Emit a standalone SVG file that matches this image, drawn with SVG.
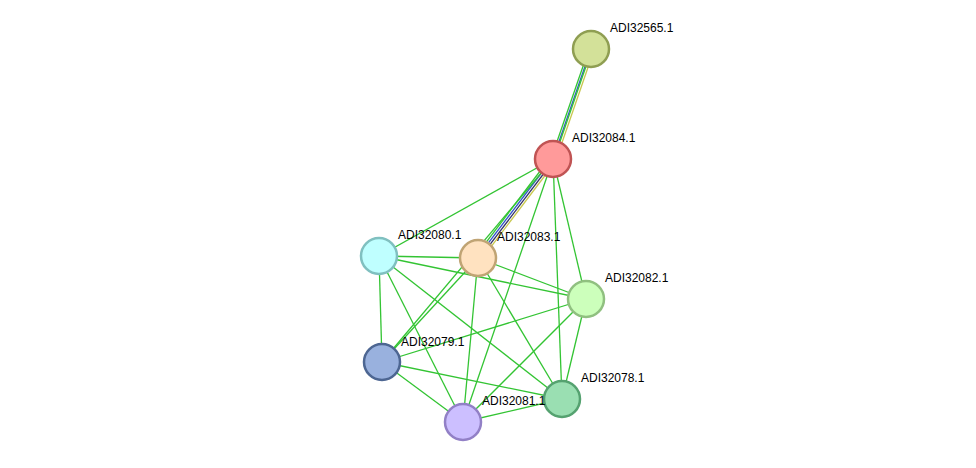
<svg xmlns="http://www.w3.org/2000/svg" width="976" height="468" viewBox="0 0 976 468">
<style>
.e{stroke:#33c433;stroke-width:1.3;fill:none}
.n{stroke-width:2.5}
text{font-family:"Liberation Sans",Arial,sans-serif;font-size:12px;fill:#000}
</style>
<rect width="976" height="468" fill="#fff"/>
<g id="edges">
<line class="e" x1="591" y1="49" x2="553" y2="159" transform="translate(-2,0)"/>
<line x1="591" y1="49" x2="553" y2="159" stroke="#3355cc" stroke-width="1.3"/>
<line class="e" x1="591" y1="49" x2="553" y2="159" transform="translate(1,0)"/>
<line x1="591" y1="49" x2="553" y2="159" stroke="#c8c850" stroke-width="1.3" transform="translate(3,1)"/>
<line class="e" x1="553" y1="159" x2="478" y2="258" transform="translate(-3,-1)"/>
<line x1="553" y1="159" x2="478" y2="258" stroke="#3355cc" stroke-width="1.3" transform="translate(-1,0)"/>
<line x1="553" y1="159" x2="478" y2="258" stroke="#333366" stroke-width="1.3" transform="translate(1,1)"/>
<line x1="553" y1="159" x2="478" y2="258" stroke="#c8c850" stroke-width="1.3" transform="translate(3,2)"/>
<line class="e" x1="553" y1="159" x2="379" y2="256"/>
<line class="e" x1="553" y1="159" x2="586" y2="299"/>
<line class="e" x1="553" y1="159" x2="562" y2="399"/>
<line class="e" x1="553" y1="159" x2="463" y2="422"/>
<line class="e" x1="553" y1="159" x2="382" y2="362"/>
<line class="e" x1="379" y1="256" x2="478" y2="258"/>
<line class="e" x1="379" y1="256" x2="586" y2="299"/>
<line class="e" x1="379" y1="256" x2="382" y2="362"/>
<line class="e" x1="379" y1="256" x2="463" y2="422"/>
<line class="e" x1="379" y1="256" x2="562" y2="399"/>
<line class="e" x1="478" y1="258" x2="586" y2="299"/>
<line class="e" x1="478" y1="258" x2="382" y2="362"/>
<line class="e" x1="478" y1="258" x2="463" y2="422"/>
<line class="e" x1="478" y1="258" x2="562" y2="399"/>
<line class="e" x1="586" y1="299" x2="382" y2="362"/>
<line class="e" x1="586" y1="299" x2="463" y2="422"/>
<line class="e" x1="586" y1="299" x2="562" y2="399"/>
<line class="e" x1="382" y1="362" x2="562" y2="399"/>
<line class="e" x1="382" y1="362" x2="463" y2="422"/>
<line class="e" x1="463" y1="422" x2="562" y2="399"/>
</g>
<g id="ADI32565.1"><circle class="n" cx="591" cy="49" r="18" fill="#d3e199" stroke="#8f9e52"/><text x="610" y="32">ADI32565.1</text></g>
<g id="ADI32084.1"><circle class="n" cx="553" cy="159" r="18" fill="#ff9a9a" stroke="#c05454"/><text x="572" y="142">ADI32084.1</text></g>
<g id="ADI32080.1"><circle class="n" cx="379" cy="256" r="18" fill="#bfffff" stroke="#80c0c0"/><text x="398" y="239">ADI32080.1</text></g>
<g id="ADI32083.1"><circle class="n" cx="478" cy="258" r="18" fill="#ffe2c0" stroke="#c0a474"/><text x="497" y="241">ADI32083.1</text></g>
<g id="ADI32082.1"><circle class="n" cx="586" cy="299" r="18" fill="#ccffbb" stroke="#90c080"/><text x="605" y="282">ADI32082.1</text></g>
<g id="ADI32079.1"><circle class="n" cx="382" cy="362" r="18" fill="#99b1de" stroke="#4d6692"/><text x="401" y="346">ADI32079.1</text></g>
<g id="ADI32078.1"><circle class="n" cx="562" cy="399" r="18" fill="#9adfb2" stroke="#55a270"/><text x="581" y="382">ADI32078.1</text></g>
<g id="ADI32081.1"><circle class="n" cx="463" cy="422" r="18" fill="#ccbfff" stroke="#9280c6"/><text x="482" y="405">ADI32081.1</text></g>
</svg>
